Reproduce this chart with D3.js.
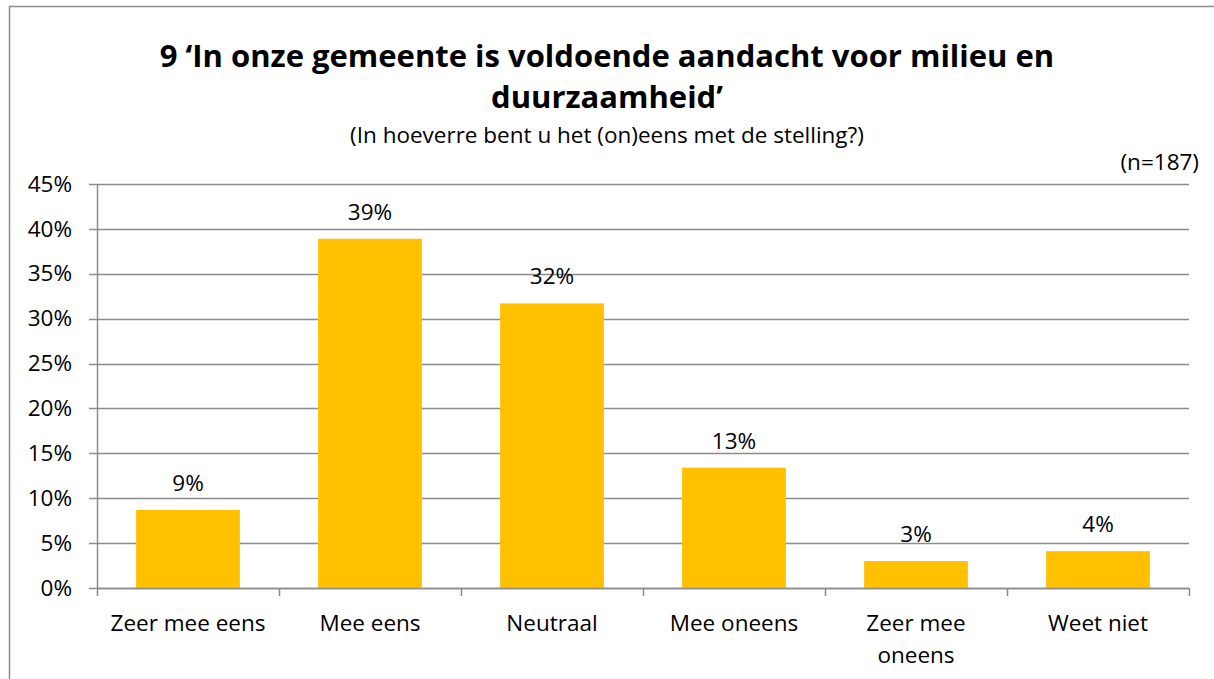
<!DOCTYPE html>
<html>
<head>
<meta charset="utf-8">
<script src="https://cdn.jsdelivr.net/npm/d3@7"></script>
<style>
  body { margin: 0; background: #fff; }
  svg { display: block; font-family: "Open Sans", Lato, sans-serif; }
</style>
</head>
<body>
<svg id="chart" width="1214" height="679"></svg>
<script>
// data
const categories = ['Zeer mee eens', 'Mee eens', 'Neutraal', 'Mee oneens', 'Zeer mee oneens', 'Weet niet']
const values = [8.7, 38.9, 31.7, 13.4, 3.0, 4.1]
const valueLabels = ['9%', '39%', '32%', '13%', '3%', '4%']
const yTicks = [0, 5, 10, 15, 20, 25, 30, 35, 40, 45]
const titleLines = ['9 ‘In onze gemeente is voldoende aandacht voor milieu en', 'duurzaamheid’']
const subtitle = '(In hoeverre bent u het (on)eens met de stelling?)'
const nLabel = '(n=187)'

const svg = d3.select('#chart')
const margin = { left: 97, right: 1189, top: 184, bottom: 588 }
const gridColor = '#8c8c8c'
const barColor = '#ffc000'
const labelSize = 22.5

// outer chart border
svg.append('rect')
    .attr('x', 9.5).attr('y', 6.5)
    .attr('width', 1220).attr('height', 700)
    .attr('fill', 'none')
    .attr('stroke', '#8c8c8c')
    .attr('stroke-width', 1.5)

// titles
let title = svg.append('text')
    .attr('text-anchor', 'middle')
    .attr('font-weight', 'bold')
    .attr('font-size', 31)
    .attr('fill', '#000')
title.selectAll('tspan')
    .data(titleLines)
    .enter()
    .append('tspan')
    .attr('x', 607)
    .attr('y', function (d, i) { return 67 + i * 41 })
    .text(function (d) { return d })

svg.append('text')
    .attr('x', 607).attr('y', 143)
    .attr('text-anchor', 'middle')
    .attr('font-size', labelSize)
    .text(subtitle)

svg.append('text')
    .attr('x', 1199).attr('y', 170)
    .attr('text-anchor', 'end')
    .attr('font-size', labelSize)
    .text(nLabel)

// scales
let x = d3.scaleBand()
    .domain(categories)
    .range([margin.left, margin.right])
    .paddingInner(0.43)
    .paddingOuter(0.215)

let y = d3.scaleLinear()
    .domain([0, 45])
    .range([margin.bottom, margin.top])

// gridlines
svg.append('g')
    .selectAll('line')
    .data(yTicks)
    .enter()
    .append('line')
    .attr('x1', margin.left - 8)
    .attr('x2', margin.right)
    .attr('y1', function (d) { return Math.round(y(d)) + 0.5 })
    .attr('y2', function (d) { return Math.round(y(d)) + 0.5 })
    .attr('stroke', gridColor)
    .attr('stroke-width', 1.5)

// y axis
let yAxis = svg.append('g')
    .attr('transform', 'translate(' + margin.left + ',0)')
    .call(d3.axisLeft(y).tickValues(yTicks).tickSize(0).tickPadding(25).tickFormat(function (d) { return d + '%' }))
yAxis.select('.domain').attr('stroke', gridColor).attr('stroke-width', 1.5)
yAxis.selectAll('text')
    .attr('font-size', labelSize)
    .attr('font-family', '"Open Sans", sans-serif')
    .attr('fill', '#000')

// bars
svg.append('g')
    .selectAll('rect')
    .data(values)
    .enter()
    .append('rect')
    .attr('x', function (d, i) { return x(categories[i]) })
    .attr('y', function (d) { return y(d) })
    .attr('width', x.bandwidth())
    .attr('height', function (d) { return y(0) - y(d) })
    .attr('fill', barColor)

// value labels
svg.append('g')
    .selectAll('text')
    .data(values)
    .enter()
    .append('text')
    .attr('x', function (d, i) { return x(categories[i]) + x.bandwidth() / 2 })
    .attr('y', function (d) { return y(d) - 19 })
    .attr('text-anchor', 'middle')
    .attr('font-size', labelSize)
    .text(function (d, i) { return valueLabels[i] })

// x axis line and category ticks
let step = (margin.right - margin.left) / categories.length
let tickXs = d3.range(categories.length + 1).map(function (i) { return margin.left + i * step })
svg.append('line')
    .attr('x1', margin.left).attr('x2', margin.right)
    .attr('y1', margin.bottom + 0.5).attr('y2', margin.bottom + 0.5)
    .attr('stroke', gridColor).attr('stroke-width', 1.5)
svg.append('g')
    .selectAll('line')
    .data(tickXs)
    .enter()
    .append('line')
    .attr('x1', function (d) { return Math.round(d) + 0.5 })
    .attr('x2', function (d) { return Math.round(d) + 0.5 })
    .attr('y1', margin.bottom)
    .attr('y2', margin.bottom + 8)
    .attr('stroke', gridColor).attr('stroke-width', 1.5)

// category labels (wrap long one)
let catLabels = svg.append('g')
    .selectAll('text')
    .data(categories)
    .enter()
    .append('text')
    .attr('text-anchor', 'middle')
    .attr('font-size', labelSize)
catLabels.each(function (d) {
    let lines = d === 'Zeer mee oneens' ? ['Zeer mee', 'oneens'] : [d]
    let cx = x(d) + x.bandwidth() / 2
    d3.select(this).selectAll('tspan')
        .data(lines)
        .enter()
        .append('tspan')
        .attr('x', cx)
        .attr('y', function (l, i) { return 631 + i * 32 })
        .text(function (l) { return l })
})
</script>
</body>
</html>
